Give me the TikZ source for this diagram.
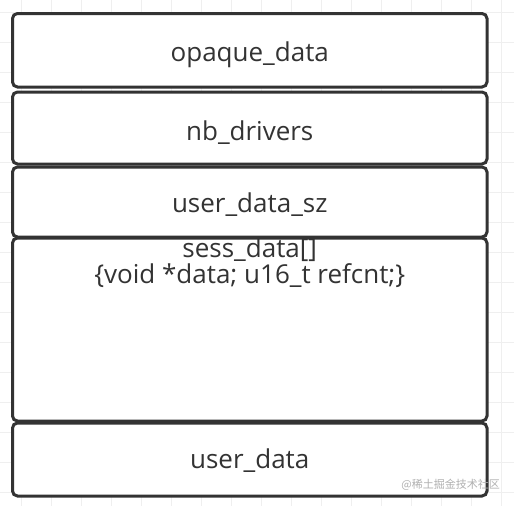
\documentclass[tikz,border=0pt]{standalone}
\usepackage{fontspec}
\setmainfont{Open Sans}
\newfontfamily\cjk{Noto Sans CJK SC}
\definecolor{boxgray}{HTML}{333333}
\definecolor{txtgray}{HTML}{333333}
\definecolor{gridc}{HTML}{EFEFEF}
\definecolor{wmgray}{HTML}{B0B0B0}
\begin{document}
\begin{tikzpicture}[x=1pt,y=-1pt,
  cell/.style={draw=boxgray, line width=3pt, rounded corners=5pt, fill=white,
    inner sep=0pt, minimum width=474.5pt},
  celltext/.style={inner sep=0pt, text=txtgray, align=center, anchor=base,
    font=\fontsize{26}{23}\selectfont},
  gridline/.style={draw=gridc, line width=1pt}]
\useasboundingbox (0,0) rectangle (514,506);
\fill[white] (0,0) rectangle (514,506);
\foreach \x in {21,51,...,501} \draw[gridline] (\x,0) -- (\x,506);
\foreach \y in {12,42,...,492} \draw[gridline] (0,\y) -- (514,\y);
\node[cell, minimum height=73.5pt] (b1) at (249.75,50.25) {};
\node[cell, minimum height=72pt] (b2) at (249.75,128) {};
\node[cell, minimum height=70pt] (b3) at (249.75,202) {};
\node[cell, minimum height=183pt] (b4) at (249.75,329.5) {};
\node[cell, minimum height=73pt] (b5) at (249.75,459.5) {};
\node[celltext] (t1) at (249.75,61) {opaque\_data};
\node[celltext] (t2) at (249.75,140) {nb\_drivers};
\node[celltext] (t3) at (249.75,212) {user\_data\_sz};
\node[celltext] (t4) at (249.75,283) {sess\_data[]\\\{void *data; u16\_t refcnt;\}};
\node[celltext] (t5) at (249.75,468) {user\_data};
\node[font=\cjk\fontsize{11}{11}\selectfont, text=wmgray, anchor=east, inner sep=0pt] (wm) at (500,485) {@稀土掘金技术社区};
\end{tikzpicture}
\end{document}
